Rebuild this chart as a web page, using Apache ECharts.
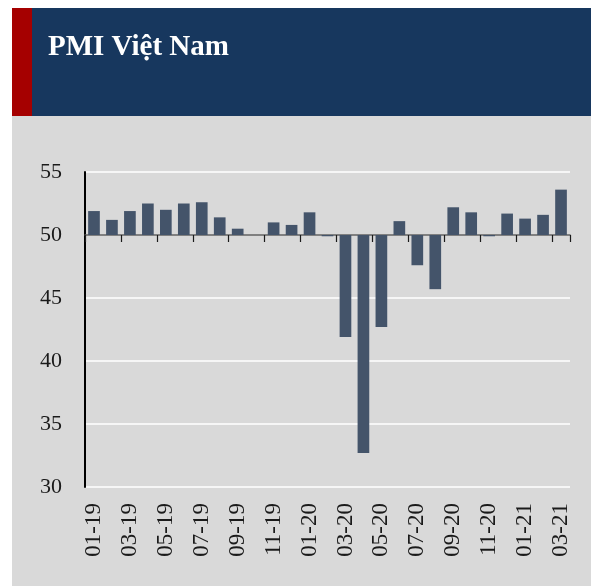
<!DOCTYPE html>
<html>
<head>
  <meta charset="utf-8">
  <title>PMI Việt Nam</title>
  <script src="https://cdn.jsdelivr.net/npm/echarts@6/dist/echarts.min.js"></script>
  <style>
    body { margin: 0; background: #fff; }
  </style>
</head>
<body>
<div style="width:591px;height:586px;" id="main"></div>

<script type="text/javascript">
// tháng (mm-yy)
var months = ['01-19','02-19','03-19','04-19','05-19','06-19','07-19','08-19','09-19','10-19','11-19','12-19',
  '01-20','02-20','03-20','04-20','05-20','06-20','07-20','08-20','09-20','10-20','11-20','12-20',
  '01-21','02-21','03-21'];
// chỉ số PMI
var pmi = [51.9, 51.2, 51.9, 52.5, 52.0, 52.5, 52.6, 51.4, 50.5, 50.0, 51.0, 50.8,
  51.8, 49.9, 41.9, 32.7, 42.7, 51.1, 47.6, 45.7, 52.2, 51.8, 49.9, 51.7,
  51.3, 51.6, 53.6];
var baseLine = 50;
var yTicks = [30, 35, 40, 45, 50, 55];

// cột vẽ từ mốc 50
var diff = pmi.map(function (v) { return +(v - baseLine).toFixed(1); });

var serif = '"Liberation Serif", "Times New Roman", serif';
var myChart = echarts.init(document.getElementById('main'));

var option = {
    animation: false,
    backgroundColor: '#ffffff',
    graphic: [
        { type: 'rect', z: -10, shape: { x: 12, y: 116, width: 579, height: 470 }, style: { fill: '#d9d9d9' } },
        { type: 'rect', z: -10, shape: { x: 12, y: 8, width: 20, height: 108 }, style: { fill: '#a50000' } },
        { type: 'rect', z: -10, shape: { x: 32, y: 8, width: 559, height: 108 }, style: { fill: '#17375e' } },
        { type: 'text', z: 10, left: 48, top: 33,
          style: { text: 'PMI Việt Nam', fill: '#ffffff', font: 'bold 29px ' + serif } }
    ],
    grid: { left: 85, right: 21, top: 172, bottom: 99 },
    xAxis: [{
        type: 'category',
        position: 'bottom',
        data: months,
        axisLine: { show: false, onZero: false },
        axisTick: { show: false },
        axisLabel: {
            interval: 1, rotate: 90, margin: 16,
            color: '#1a1a1a', fontFamily: serif, fontSize: 23
        }
    }, {
        type: 'category',
        position: 'bottom',
        data: months,
        axisLine: { show: true, onZero: true, lineStyle: { color: '#595959', width: 1.5 } },
        axisTick: {
            show: true, length: 7, lineStyle: { color: '#1a1a1a', width: 1.2 },
            interval: function (i) { return i % 2 === 0 && i < months.length; }
        },
        axisLabel: { show: false }
    }],
    yAxis: {
        type: 'value',
        min: yTicks[0] - baseLine,
        max: yTicks[yTicks.length - 1] - baseLine,
        interval: 5,
        axisLine: { show: true, lineStyle: { color: '#000000', width: 2 } },
        axisTick: { show: false },
        splitLine: { lineStyle: { color: '#ffffff', width: 1.5 } },
        axisLabel: {
            margin: 23, color: '#1a1a1a', fontFamily: serif, fontSize: 22,
            formatter: function (v) { return v + baseLine; }
        }
    },
    series: [{
        name: 'PMI',
        type: 'bar',
        xAxisIndex: 0,
        data: diff,
        barCategoryGap: '35%',
        itemStyle: { color: '#44546a' }
    }]
};

myChart.setOption(option);
</script>
</body>
</html>
